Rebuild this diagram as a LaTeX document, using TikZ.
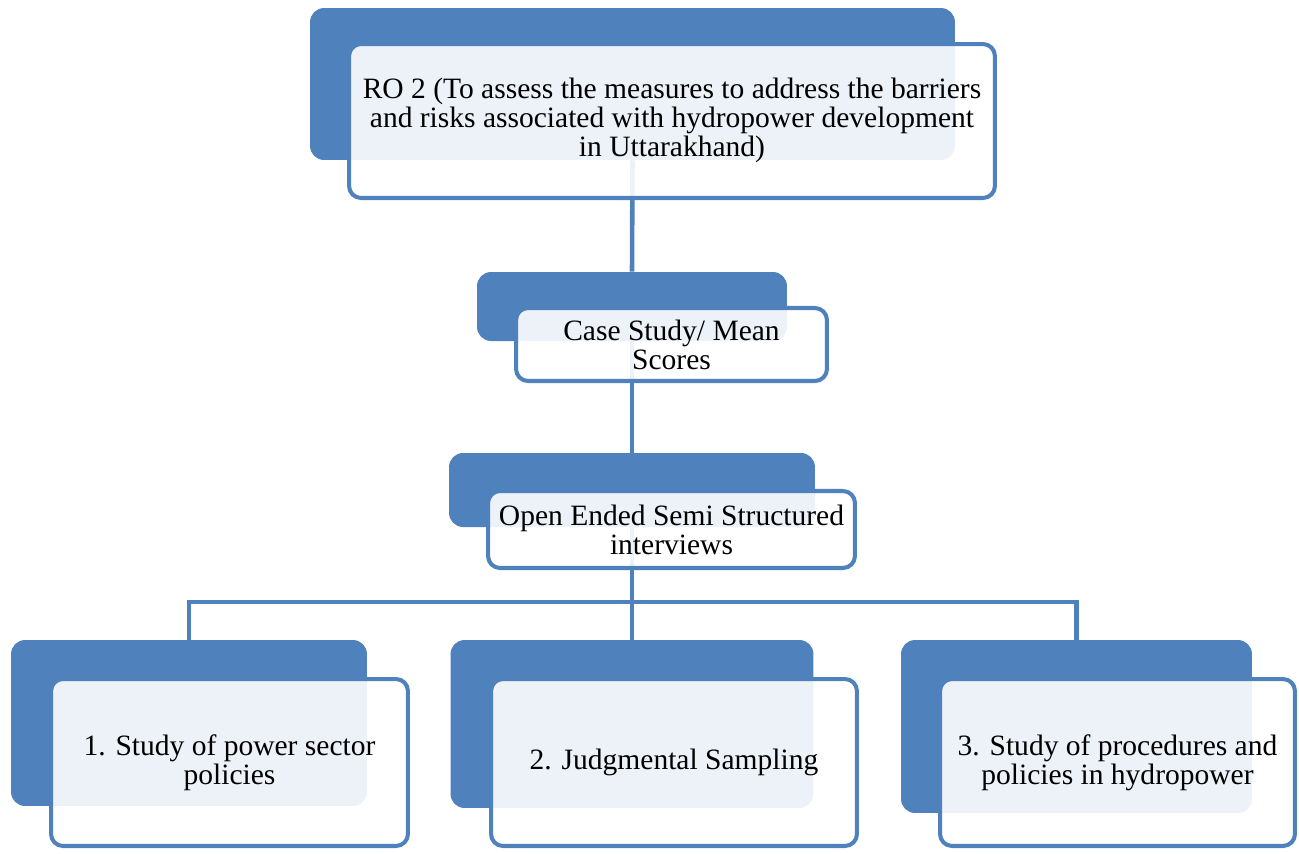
\documentclass[tikz,border=0pt]{standalone}
\usepackage{fontspec}
\setmainfont{Liberation Serif}
\definecolor{smblue}{HTML}{4F81BD}
\begin{document}
\begin{tikzpicture}[x=0.02cm,y=-0.02cm,
  backbox/.style={fill=smblue,rounded corners=0.28cm,inner sep=0pt},
  frontbox/.style={draw=smblue,line width=2.3pt,fill=white,fill opacity=0.9,text opacity=1,
    rounded corners=0.24cm,align=center,inner sep=0pt,font=\fontsize{16.8}{16.6}\selectfont},
  link/.style={draw=smblue,line width=2.6pt}]
\useasboundingbox (0,0) rectangle (1299,853);
\node[backbox,minimum width=12.9cm,minimum height=3.04cm] (rob) at (632.5,84) {};
\node[backbox,minimum width=6.2cm,minimum height=1.38cm] (caseb) at (632,306.5) {};
\node[backbox,minimum width=7.32cm,minimum height=1.48cm] (intb) at (632,490) {};
\node[backbox,minimum width=7.12cm,minimum height=3.32cm] (polb) at (189,723) {};
\node[backbox,minimum width=7.26cm,minimum height=3.36cm] (sampb) at (632,724) {};
\node[backbox,minimum width=7.02cm,minimum height=3.46cm] (procb) at (1076.5,726.5) {};
\coordinate (split) at (632,602);
\draw[link] (rob.south) -- (caseb.north);
\draw[link] (caseb.south) -- (intb.north);
\draw[link] (intb.south) -- (split);
\draw[link] (split) -| (polb.north);
\draw[link] (split) -- (sampb.north);
\draw[link] (split) -| (procb.north);
\node[frontbox,minimum width=12.92cm,minimum height=3.08cm,text depth=0.16cm] (ro) at (672,121)
  {RO 2 (To assess the measures to address the barriers\\and risks associated with hydropower development\\in Uttarakhand)};
\node[frontbox,minimum width=6.22cm,minimum height=1.46cm] (case) at (671.5,344.5)
  {Case Study/ Mean\\Scores};
\node[frontbox,minimum width=7.34cm,minimum height=1.54cm] (int) at (671.5,529.5)
  {Open Ended Semi Structured\\interviews};
\node[frontbox,minimum width=7.14cm,minimum height=3.34cm] (pol) at (229.5,762.5)
  {1. Study of power sector\\policies};
\node[frontbox,minimum width=7.32cm,minimum height=3.34cm] (samp) at (674,762.5)
  {2. Judgmental Sampling};
\node[frontbox,minimum width=7.1cm,minimum height=3.34cm] (proc) at (1117.5,762.5)
  {3. Study of procedures and\\policies in hydropower};
\end{tikzpicture}
\end{document}
